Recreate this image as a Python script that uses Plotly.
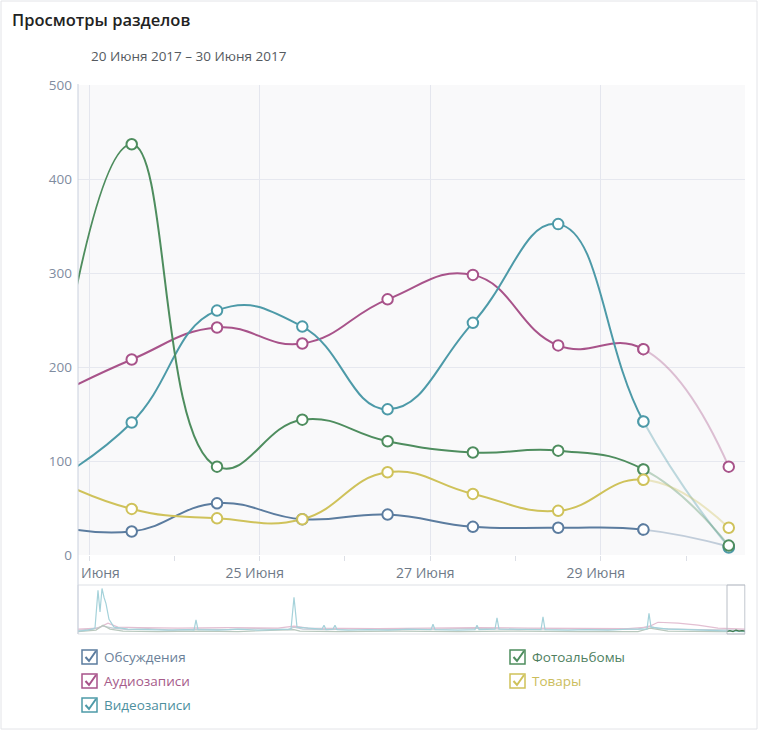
import plotly.graph_objects as go
from datetime import datetime

W, H = 759, 731

# ---------------- data ----------------
days = ["2017-06-22 12:00", "2017-06-23 12:00", "2017-06-24 12:00", "2017-06-25 12:00",
        "2017-06-26 12:00", "2017-06-27 12:00", "2017-06-28 12:00", "2017-06-29 12:00",
        "2017-06-30 12:00"]
discussions = [33, 25, 55, 38, 43, 30, 29, 27, 9]
audio = [165, 208, 242, 225, 272, 298, 223, 219, 94]
video = [74, 141, 260, 243, 155, 247, 352, 142, 8]
photos = [105, 437, 94, 144, 121, 109, 111, 91, 10]
goods = [85, 49, 39, 38, 88, 65, 47, 80, 29]

series_names = ["Обсуждения", "Аудиозаписи", "Видеозаписи", "Фотоальбомы", "Товары"]
colors = ["#5b7c9f", "#a8538a", "#4d9aa8", "#4e8d5e", "#cfc25a"]
label_colors = ["#6b7f99", "#a65b8a", "#4d8f9e", "#4f7f5f", "#cbbd5c"]

tick_days = ["2017-06-23", "2017-06-25", "2017-06-27", "2017-06-29"]
tick_text = ["", "25 Июня", "27 Июня", "29 Июня"]
first_tick_label = "Июня"
y_ticks = [0, 100, 200, 300, 400, 500]

title_text = "Просмотры разделов"
subtitle_text = "20 Июня 2017 – 30 Июня 2017"

view_start = datetime(2017, 6, 22, 20, 53)
view_end = datetime(2017, 6, 30, 16, 34)

# navigator (overview) data, index positions along the whole history
nav_teal_x = [0, 10, 17, 20, 22, 24, 26, 28, 31, 36, 50, 70, 90, 110, 116, 118, 120, 140, 160, 180,
              200, 213, 216, 219, 230, 244, 246, 248, 255, 257, 259, 270, 290, 310, 330, 353, 355,
              357, 380, 397, 399, 401, 417, 419, 421, 440, 463, 465, 467, 490, 510, 530, 550, 569,
              571, 573, 590, 610, 630, 650, 667]
nav_teal_y = [6, 8, 12, 89, 45, 93, 75, 62, 30, 14, 10, 9, 8, 9, 8, 29, 9, 8, 10, 8,
              9, 10, 75, 14, 12, 10, 18, 9, 10, 18, 9, 8, 9, 8, 10, 9, 20,
              9, 8, 9, 18, 9, 10, 33, 10, 9, 9, 35, 9, 8, 9, 8, 10, 10,
              42, 14, 10, 9, 8, 7, 5]
nav_audio_x = [0, 20, 30, 40, 60, 100, 150, 200, 216, 230, 300, 350, 400, 450, 500, 550, 570, 580,
               600, 620, 640, 667]
nav_audio_y = [10, 12, 22, 14, 13, 12, 13, 12, 16, 12, 11, 12, 13, 12, 12, 11, 14, 24, 22, 18, 12, 10]
nav_photo_x = [0, 18, 25, 32, 45, 80, 120, 160, 216, 222, 260, 320, 380, 440, 500, 560, 572, 590,
               640, 649, 652, 655, 658, 661, 664, 667]
nav_photo_y = [5, 8, 18, 10, 6, 5, 6, 5, 9, 6, 5, 6, 5, 6, 5, 5, 12, 6, 5, 5, 7, 5, 8, 6, 7, 6]
nav_disc_x = [0, 15, 25, 35, 50, 70, 95, 120, 150, 180, 210, 216, 225, 250, 280, 320, 360, 400,
              440, 480, 520, 560, 571, 580, 620, 667]
nav_disc_y = [8, 10, 16, 12, 9, 11, 8, 10, 9, 11, 9, 14, 10, 9, 11, 9, 10, 12, 9, 11, 9, 10, 16, 11, 9, 8]
nav_sel_start = 649
nav_len = 667


# ---------------- helpers ----------------
def px(x):
    return x / W


def py(y):
    return 1 - y / H


PLOT_L, PLOT_R = px(78), px(745)
split_day = datetime.strptime(days[-2], "%Y-%m-%d %H:%M")   # last complete day
frac = (split_day - view_start) / (view_end - view_start)
SPLIT = PLOT_L + frac * (PLOT_R - PLOT_L)

fig = go.Figure()
all_series = [discussions, audio, video, photos, goods]

# solid lines (up to the last full day)
for vals, col, name in zip(all_series, colors, series_names):
    fig.add_trace(go.Scatter(x=days, y=vals, mode="lines", name=name,
                             line=dict(color=col, width=2, shape="spline", smoothing=1.3),
                             xaxis="x", yaxis="y", showlegend=False))
for vals, col, name in zip(all_series, colors, series_names):
    fig.add_trace(go.Scatter(x=days[1:-1], y=vals[1:-1], mode="markers", name=name,
                             marker=dict(symbol="circle", size=10.5, color="white",
                                         line=dict(color=col, width=2)),
                             xaxis="x", yaxis="y", showlegend=False))

# faded part (current incomplete day)
for vals, col in zip(all_series, colors):
    fig.add_trace(go.Scatter(x=days, y=vals, mode="lines",
                             line=dict(color=col, width=2, shape="spline", smoothing=1.3),
                             opacity=0.35, xaxis="x3", yaxis="y", hoverinfo="skip", showlegend=False))
for vals, col, name in zip(all_series, colors, series_names):
    fig.add_trace(go.Scatter(x=days[-2:], y=vals[-2:], mode="markers", name=name, cliponaxis=False,
                             marker=dict(symbol="circle", size=10.5, color="white",
                                         line=dict(color=col, width=2)),
                             xaxis="x3", yaxis="y", showlegend=False))

# navigator traces
nav_specs = [(nav_disc_x, nav_disc_y, "#c5ccd6"), (nav_audio_x, nav_audio_y, "#e3bfd2"),
             (nav_photo_x, nav_photo_y, "#b9c8bd"), (nav_teal_x, nav_teal_y, "#a5d2da")]
for nx, ny, ncol in nav_specs:
    fig.add_trace(go.Scatter(x=nx, y=ny, mode="lines", xaxis="x2", yaxis="y2",
                             line=dict(color=ncol, width=1.2), hoverinfo="skip", showlegend=False))
sel = [i for i, v in enumerate(nav_photo_x) if v >= nav_sel_start]
fig.add_trace(go.Scatter(x=[nav_photo_x[i] for i in sel], y=[nav_photo_y[i] for i in sel],
                         mode="lines", xaxis="x2", yaxis="y2",
                         line=dict(color="#3f7a4d", width=1.2), hoverinfo="skip", showlegend=False))

shapes = []
shapes.append(dict(type="rect", xref="paper", yref="paper", x0=px(1), x1=px(757), y0=py(729), y1=py(1),
                   line=dict(color="#e3e4e8", width=1), layer="below"))
shapes.append(dict(type="rect", xref="paper", yref="y domain", x0=PLOT_L, x1=PLOT_R, y0=0, y1=1,
                   fillcolor="#f9f9fa", line=dict(width=0), layer="below"))
shapes.append(dict(type="rect", xref="paper", yref="paper", x0=PLOT_L, x1=PLOT_R, y0=py(634), y1=py(585),
                   line=dict(color="#dde0e5", width=1), layer="below"))
shapes.append(dict(type="rect", xref="x2", yref="paper", x0=nav_sel_start, x1=nav_len, y0=py(634), y1=py(585),
                   line=dict(color="#b9bec6", width=1)))
shapes.append(dict(type="line", xref="paper", yref="paper", x0=PLOT_L, x1=PLOT_L, y0=py(634), y1=py(84),
                   line=dict(color="#c9d0dd", width=1)))

annotations = []
annotations.append(dict(text=title_text, xref="paper", yref="paper", x=px(10), y=py(20),
                        xanchor="left", yanchor="middle", showarrow=False,
                        font=dict(family="Open Sans", size=16.5, color="#222222", weight=600)))
annotations.append(dict(text=subtitle_text, xref="paper", yref="paper", x=px(89), y=py(56),
                        xanchor="left", yanchor="middle", showarrow=False,
                        font=dict(family="Open Sans", size=13.5, color="#555a60")))
annotations.append(dict(text=first_tick_label, xref="paper", yref="paper", x=px(79), y=py(572),
                        xanchor="left", yanchor="middle", showarrow=False,
                        font=dict(family="Open Sans", size=14, color="#6f7a88")))

legend_pos = [(82, 657), (82, 681), (82, 705), (510, 657), (510, 681)]
for (lx, ly), i in zip(legend_pos, range(5)):
    col = colors[i]
    shapes.append(dict(type="rect", xref="paper", yref="paper",
                       x0=px(lx), x1=px(lx + 15), y0=py(ly + 7), y1=py(ly - 7),
                       line=dict(color=col, width=1.5)))
    path = "M {},{} L {},{} L {},{}".format(px(lx + 3.5), py(ly), px(lx + 7), py(ly + 4),
                                             px(lx + 14), py(ly - 6))
    shapes.append(dict(type="path", xref="paper", yref="paper", path=path,
                       line=dict(color=col, width=2)))
    annotations.append(dict(text=series_names[i], xref="paper", yref="paper",
                            x=px(lx + 20), y=py(ly), xanchor="left", yanchor="middle",
                            showarrow=False,
                            font=dict(family="Open Sans", size=13.5, color=label_colors[i])))

tickfont = dict(family="Open Sans", size=14, color="#6f7a88")
fig.update_layout(
    width=W, height=H,
    margin=dict(l=0, r=0, t=0, b=0, autoexpand=False),
    paper_bgcolor="white",
    plot_bgcolor="rgba(0,0,0,0)",
    showlegend=False,
    shapes=shapes,
    annotations=annotations,
    xaxis=dict(
        type="date", domain=[PLOT_L, SPLIT], anchor="y", automargin=False,
        range=[view_start, split_day],
        tickmode="array", tickvals=tick_days, ticktext=tick_text,
        showgrid=True, gridcolor="#e4e6ee", gridwidth=1,
        ticks="outside", ticklen=5, tickcolor="#dcdfe6",
        minor=dict(ticks="outside", ticklen=5, tickcolor="#dcdfe6", dtick=86400000,
                   tick0="2017-06-23", showgrid=False),
        ticklabelshift=-5,
        showline=False, zeroline=False, tickfont=tickfont,
    ),
    xaxis3=dict(
        type="date", domain=[SPLIT, PLOT_R], anchor="y", automargin=False,
        range=[split_day, view_end],
        tickmode="array", tickvals=["2017-06-30"], ticktext=[""],
        showgrid=False, ticks="outside", ticklen=5, tickcolor="#dcdfe6",
        showline=False, zeroline=False, tickfont=tickfont,
    ),
    yaxis=dict(
        domain=[py(555), py(85)], anchor="x", automargin=False,
        range=[0, 500],
        tickmode="array", tickvals=y_ticks,
        showgrid=True, gridcolor="#e6e8ef", gridwidth=1,
        zeroline=False, showline=False, ticks="",
        tickfont=dict(family="Open Sans", size=13.5, color="#7f8ca0"),
        ticklabelstandoff=5,
    ),
    xaxis2=dict(domain=[PLOT_L, PLOT_R], anchor="y2", range=[0, nav_len], automargin=False,
                showgrid=False, zeroline=False, showticklabels=False, ticks=""),
    yaxis2=dict(domain=[py(634), py(585)], anchor="x2", range=[0, 100], automargin=False,
                showgrid=False, zeroline=False, showticklabels=False, ticks=""),
)

fig.write_html("out.html")
